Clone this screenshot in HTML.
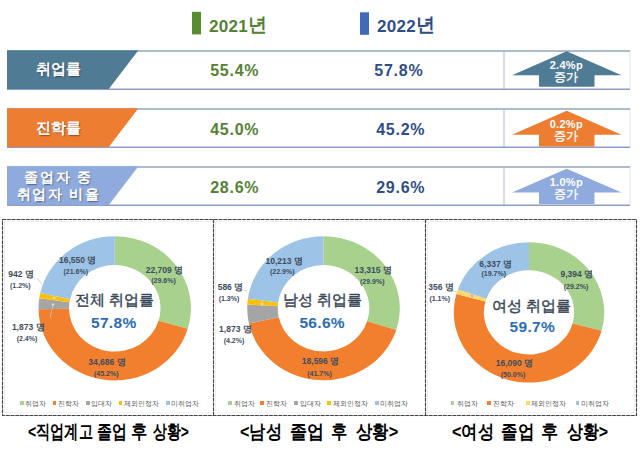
<!DOCTYPE html>
<html><head><meta charset="utf-8">
<style>
html,body{margin:0;padding:0;background:#fff;}
body{width:640px;height:454px;position:relative;overflow:hidden;font-family:"Liberation Sans", sans-serif;}
svg{position:absolute;left:0;top:0;}
.t{position:absolute;white-space:nowrap;line-height:1;}
.hd{font-weight:bold;font-size:17px;letter-spacing:0.3px;}
.hy{font-size:18.5px;position:relative;top:-1.5px;}
.val{font-weight:bold;font-size:16px;letter-spacing:0.75px;}
.lab{color:#fff;font-weight:normal;-webkit-text-stroke:0.6px #fff;font-size:15px;text-shadow:1px 1px 1.5px rgba(0,0,0,.6);text-align:center;}
.arr{color:#fff;font-weight:bold;text-align:center;}
.dl{color:#404C5E;font-weight:bold;font-size:8.5px;text-align:center;}
.dp{color:#404C5E;font-weight:bold;font-size:7px;text-align:center;}
.ct{color:#3C4858;font-weight:normal;-webkit-text-stroke:0.45px #3C4858;font-size:15px;text-align:center;}
.cv{color:#2C6DB2;font-weight:bold;font-size:15.5px;letter-spacing:0.3px;text-align:center;}
.lg{color:#4F4F4F;font-size:7.3px;}
.lg i{display:inline-block;width:3.5px;height:3.5px;margin-right:2px;vertical-align:1px;}
.cap{color:#000;font-weight:bold;font-size:19px;transform-origin:0 0;}
</style></head><body>
<svg width="640" height="454" viewBox="0 0 640 454"><path d="M114.75,236.20 A76.20,72.10 0 0 1 187.79,328.85 L158.57,320.63 A45.72,43.26 0 0 0 114.75,265.04 Z" fill="#A7D18C"/><path d="M187.79,328.85 A76.20,72.10 0 0 1 38.56,309.21 L69.03,308.84 A45.72,43.26 0 0 0 158.57,320.63 Z" fill="#F27F2E"/><path d="M38.56,309.21 A76.20,72.10 0 0 1 39.28,298.37 L69.47,302.34 A45.72,43.26 0 0 0 69.03,308.84 Z" fill="#A5A5A5"/><path d="M39.28,298.37 A76.20,72.10 0 0 1 40.28,293.01 L70.07,299.13 A45.72,43.26 0 0 0 69.47,302.34 Z" fill="#FFC000"/><path d="M40.28,293.01 A76.20,72.10 0 0 1 114.75,236.20 L114.75,265.04 A45.72,43.26 0 0 0 70.07,299.13 Z" fill="#9DC3E6"/><path d="M323.50,236.20 A76.30,72.00 0 0 1 396.21,330.02 L367.13,321.29 A45.78,43.20 0 0 0 323.50,265.00 Z" fill="#A7D18C"/><path d="M396.21,330.02 A76.30,72.00 0 0 1 248.93,323.46 L278.76,317.36 A45.78,43.20 0 0 0 367.13,321.29 Z" fill="#F27F2E"/><path d="M248.93,323.46 A76.30,72.00 0 0 1 247.30,304.58 L277.78,306.03 A45.78,43.20 0 0 0 278.76,317.36 Z" fill="#A5A5A5"/><path d="M247.30,304.58 A76.30,72.00 0 0 1 247.86,298.73 L278.12,302.52 A45.78,43.20 0 0 0 277.78,306.03 Z" fill="#FFC000"/><path d="M247.86,298.73 A76.30,72.00 0 0 1 323.50,236.20 L323.50,265.00 A45.78,43.20 0 0 0 278.12,302.52 Z" fill="#9DC3E6"/><path d="M529.00,242.20 A75.20,70.20 0 0 1 601.60,330.71 L572.56,323.39 A45.12,42.12 0 0 0 529.00,270.28 Z" fill="#A7D18C"/><path d="M601.60,330.71 A75.20,70.20 0 0 1 456.40,294.09 L485.44,301.41 A45.12,42.12 0 0 0 572.56,323.39 Z" fill="#F27F2E"/><path d="M456.40,294.09 A75.20,70.20 0 0 1 457.93,289.45 L486.36,298.63 A45.12,42.12 0 0 0 485.44,301.41 Z" fill="#FFD966"/><path d="M457.93,289.45 A75.20,70.20 0 0 1 529.00,242.20 L529.00,270.28 A45.12,42.12 0 0 0 486.36,298.63 Z" fill="#9DC3E6"/><g stroke="#C8C8C8" stroke-width="0.8" fill="none"><polyline points="37,278 42,284"/><polyline points="50,318 53,305"/><polyline points="244,290 247,291"/><polyline points="453,291 457,292"/></g><g fill="#DCDCDC"><circle cx="54" cy="298" r="1.3"/><circle cx="53" cy="304.5" r="1.3"/><circle cx="262" cy="304" r="1.4"/></g><circle cx="472" cy="296" r="1.4" fill="#A9BBD0"/><rect x="629.5" y="50" width="1" height="39" fill="#DDE3EC"/><rect x="503" y="51" width="2" height="38" fill="#D8DCE4"/><rect x="7" y="50" width="623" height="2" fill="#B0BACD"/><rect x="7" y="88.5" width="623" height="1.5" fill="#8F9CC5"/><path d="M7,50.3 L138.4,50.3 L108.8,89 L7,89 Z" fill="#4F7B95"/><path d="M566.7,51.2 L621.5,75.2 L594.5,75.2 L594.5,86.8 L539,86.8 L539,75.2 L512,75.2 Z" fill="#4F7B95"/><rect x="629.5" y="108" width="1" height="39" fill="#DDE3EC"/><rect x="503" y="109" width="2" height="38" fill="#D8DCE4"/><rect x="7" y="108" width="623" height="2" fill="#B0BACD"/><rect x="7" y="146.5" width="623" height="1.5" fill="#8F9CC5"/><path d="M7,108.3 L138.4,108.3 L108.8,147 L7,147 Z" fill="#ED7D31"/><path d="M566.7,110.8 L621.5,134.7 L594.5,134.7 L594.5,146.4 L539,146.4 L539,134.7 L512,134.7 Z" fill="#ED7D31"/><rect x="629.5" y="166" width="1" height="39" fill="#DDE3EC"/><rect x="503" y="167" width="2" height="38" fill="#D8DCE4"/><rect x="7" y="166" width="623" height="2" fill="#B0BACD"/><rect x="7" y="204.5" width="623" height="1.5" fill="#8F9CC5"/><path d="M7,166.3 L138.4,166.3 L108.8,205 L7,205 Z" fill="#8FAADC"/><path d="M566.7,168.8 L621.5,192.5 L594.5,192.5 L594.5,204 L539,204 L539,192.5 L512,192.5 Z" fill="#8FAADC"/><g fill="none" stroke="#F0F0F0" stroke-width="1"><rect x="4.5" y="221.5" width="630" height="191"/><line x1="215.5" y1="221.5" x2="215.5" y2="413.5"/><line x1="427.5" y1="221.5" x2="427.5" y2="413.5"/></g><g fill="none" stroke="#B8B8B8" stroke-width="1.1"><rect x="2.5" y="219.5" width="634" height="196"/><line x1="213.5" y1="219.5" x2="213.5" y2="415.5"/><line x1="425.5" y1="219.5" x2="425.5" y2="415.5"/></g><g fill="none" stroke="#444444" stroke-width="1.1" stroke-dasharray="3.5,1.2"><rect x="2.5" y="219.5" width="634" height="196"/><line x1="213.5" y1="219.5" x2="213.5" y2="415.5"/><line x1="425.5" y1="219.5" x2="425.5" y2="415.5"/></g><rect x="192" y="11.8" width="9" height="22.6" fill="#588C31"/><rect x="360" y="12.3" width="9" height="22.5" fill="#416BB9"/></svg>
<div class="t hd" style="left:209px;top:17px;color:#548235">2021<span class="hy">년</span></div>
<div class="t hd" style="left:377px;top:17px;color:#2F4E86">2022<span class="hy">년</span></div>
<div class="t val" style="left:210.2px;top:63.3px;color:#548235">55.4%</div>
<div class="t val" style="left:374.3px;top:63.3px;color:#2F4E86">57.8%</div>
<div class="t val" style="left:210.2px;top:122.3px;color:#548235">45.0%</div>
<div class="t val" style="left:376.2px;top:122.3px;color:#2F4E86">45.2%</div>
<div class="t val" style="left:210.2px;top:180.0px;color:#548235">28.6%</div>
<div class="t val" style="left:376.2px;top:180.0px;color:#2F4E86">29.6%</div>
<div class="t lab" style="left:8px;top:61px;width:100px">취업률</div>
<div class="t lab" style="left:8px;top:120px;width:100px">진학률</div>
<div class="t lab" style="left:8.4px;top:168.5px;width:100px;font-size:14px;line-height:17.6px;letter-spacing:1.6px">졸업자 중<br>취업자 비율</div>
<div class="t arr" style="left:536.3px;top:59px;width:60px;line-height:10.5px"><span style="font-size:11px;letter-spacing:0.3px">2.4%p</span><br><span style="font-size:12px;font-weight:normal;-webkit-text-stroke:0.35px #fff">증가</span></div>
<div class="t arr" style="left:536.3px;top:118px;width:60px;line-height:10.5px"><span style="font-size:11px;letter-spacing:0.3px">0.2%p</span><br><span style="font-size:12px;font-weight:normal;-webkit-text-stroke:0.35px #fff">증가</span></div>
<div class="t arr" style="left:536.3px;top:176px;width:60px;line-height:10.5px"><span style="font-size:11px;letter-spacing:0.3px">1.0%p</span><br><span style="font-size:12px;font-weight:normal;-webkit-text-stroke:0.35px #fff">증가</span></div>
<div class="t ct" style="left:64.45px;top:292.0px;width:100px">전체 취업률</div>
<div class="t cv" style="left:63.75px;top:314.8px;width:100px">57.8%</div>
<div class="t ct" style="left:272.3px;top:291.7px;width:100px">남성 취업률</div>
<div class="t cv" style="left:272.2px;top:314.9px;width:100px">56.6%</div>
<div class="t ct" style="left:481.8px;top:297.9px;width:100px">여성 취업률</div>
<div class="t cv" style="left:482.3px;top:319.4px;width:100px">59.7%</div>
<div class="t dl" style="left:134.46px;top:265.5px;width:60px">22,709 명</div>
<div class="t dp" style="left:133.5px;top:277.3px;width:60px">(29.6%)</div>
<div class="t dl" style="left:47.71px;top:256.05px;width:60px">16,550 명</div>
<div class="t dp" style="left:45.77px;top:267.55px;width:60px">(21.6%)</div>
<div class="t dl" style="left:-9.04px;top:269.59px;width:60px">942 명</div>
<div class="t dp" style="left:-9.73px;top:281.61px;width:60px">(1.2%)</div>
<div class="t dl" style="left:-1.8px;top:322.61px;width:60px">1,873 명</div>
<div class="t dp" style="left:-3.0px;top:334.82px;width:60px">(2.4%)</div>
<div class="t dl" style="left:76.99px;top:358.21px;width:60px">34,686 명</div>
<div class="t dp" style="left:76.25px;top:369.84px;width:60px">(45.2%)</div>
<div class="t dl" style="left:343.23px;top:265.8px;width:60px">13,315 명</div>
<div class="t dp" style="left:342.24px;top:277.57px;width:60px">(29.9%)</div>
<div class="t dl" style="left:254.17px;top:256.82px;width:60px">10,213 명</div>
<div class="t dp" style="left:252.23px;top:268.36px;width:60px">(22.9%)</div>
<div class="t dl" style="left:200.44px;top:283.34px;width:60px">586 명</div>
<div class="t dp" style="left:199.03px;top:294.84px;width:60px">(1.3%)</div>
<div class="t dl" style="left:205.45px;top:325.38px;width:60px">1,873 명</div>
<div class="t dp" style="left:203.99px;top:336.88px;width:60px">(4.2%)</div>
<div class="t dl" style="left:290.5px;top:356.84px;width:60px">18,596 명</div>
<div class="t dp" style="left:289.49px;top:370.3px;width:60px">(41.7%)</div>
<div class="t dl" style="left:546.77px;top:270.03px;width:60px">9,394 명</div>
<div class="t dp" style="left:546.0px;top:282.55px;width:60px">(29.2%)</div>
<div class="t dl" style="left:465.7px;top:259.8px;width:60px">6,337 명</div>
<div class="t dp" style="left:463.76px;top:270.34px;width:60px">(19.7%)</div>
<div class="t dl" style="left:410.98px;top:283.34px;width:60px">356 명</div>
<div class="t dp" style="left:409.75px;top:294.84px;width:60px">(1.1%)</div>
<div class="t dl" style="left:484.47px;top:358.88px;width:60px">16,090 명</div>
<div class="t dp" style="left:483.01px;top:371.09px;width:60px">(50.0%)</div>
<div style="position:absolute;left:20.2px;top:401.40000000000003px;width:3.8px;height:3.3px;background:#A7D18C"></div>
<div class="t lg" style="left:25.2px;top:399.6px;">취업자</div>
<div style="position:absolute;left:52.5px;top:401.40000000000003px;width:3.8px;height:3.3px;background:#F27F2E"></div>
<div class="t lg" style="left:57.7px;top:399.6px;">진학자</div>
<div style="position:absolute;left:85.8px;top:401.40000000000003px;width:3.8px;height:3.3px;background:#A5A5A5"></div>
<div class="t lg" style="left:90.5px;top:399.6px;">입대자</div>
<div style="position:absolute;left:118.6px;top:401.40000000000003px;width:3.8px;height:3.3px;background:#FFC000"></div>
<div class="t lg" style="left:124px;top:399.6px;">제외인정자</div>
<div style="position:absolute;left:166px;top:401.40000000000003px;width:3.8px;height:3.3px;background:#9DC3E6"></div>
<div class="t lg" style="left:171px;top:399.6px;">미취업자</div>
<div style="position:absolute;left:228.4px;top:401.40000000000003px;width:3.8px;height:3.3px;background:#A7D18C"></div>
<div class="t lg" style="left:233.6px;top:399.6px;">취업자</div>
<div style="position:absolute;left:260.2px;top:401.40000000000003px;width:3.8px;height:3.3px;background:#F27F2E"></div>
<div class="t lg" style="left:266px;top:399.6px;">진학자</div>
<div style="position:absolute;left:293.75px;top:401.40000000000003px;width:3.8px;height:3.3px;background:#A5A5A5"></div>
<div class="t lg" style="left:299.7px;top:399.6px;">입대자</div>
<div style="position:absolute;left:327px;top:401.40000000000003px;width:3.8px;height:3.3px;background:#FFC000"></div>
<div class="t lg" style="left:332.8px;top:399.6px;">제외인정자</div>
<div style="position:absolute;left:375px;top:401.40000000000003px;width:3.8px;height:3.3px;background:#9DC3E6"></div>
<div class="t lg" style="left:380.2px;top:399.6px;">미취업자</div>
<div style="position:absolute;left:450.7px;top:401.40000000000003px;width:3.8px;height:3.3px;background:#A7D18C"></div>
<div class="t lg" style="left:456.9px;top:399.6px;">취업자</div>
<div style="position:absolute;left:487.2px;top:401.40000000000003px;width:3.8px;height:3.3px;background:#F27F2E"></div>
<div class="t lg" style="left:493.4px;top:399.6px;">진학자</div>
<div style="position:absolute;left:525.8px;top:401.40000000000003px;width:3.8px;height:3.3px;background:#FFD966"></div>
<div class="t lg" style="left:530.5px;top:399.6px;">제외인정자</div>
<div style="position:absolute;left:575.5px;top:401.40000000000003px;width:3.8px;height:3.3px;background:#9DC3E6"></div>
<div class="t lg" style="left:580.6px;top:399.6px;">미취업자</div>
<div class="t cap" style="left:27.92px;top:422px;transform:scaleX(0.7426)">&lt;직업계고</div>
<div class="t cap" style="left:96.85px;top:422px;transform:scaleX(0.7827)">졸업</div>
<div class="t cap" style="left:131.29px;top:422px;transform:scaleX(0.8595)">후</div>
<div class="t cap" style="left:152.71px;top:422px;transform:scaleX(0.7313)">상황&gt;</div>
<div class="t cap" style="left:240.35px;top:422px;transform:scaleX(0.8501)">&lt;남성</div>
<div class="t cap" style="left:290.27px;top:422px;transform:scaleX(0.8941)">졸업</div>
<div class="t cap" style="left:331.19px;top:422px;transform:scaleX(0.8595)">후</div>
<div class="t cap" style="left:356.45px;top:422px;transform:scaleX(0.8608)">상황&gt;</div>
<div class="t cap" style="left:451.61px;top:422px;transform:scaleX(0.8534)">&lt;여성</div>
<div class="t cap" style="left:501.22px;top:422px;transform:scaleX(0.8695)">졸업</div>
<div class="t cap" style="left:541.31px;top:422px;transform:scaleX(0.9025)">후</div>
<div class="t cap" style="left:567.49px;top:422px;transform:scaleX(0.8382)">상황&gt;</div>
</body></html>
